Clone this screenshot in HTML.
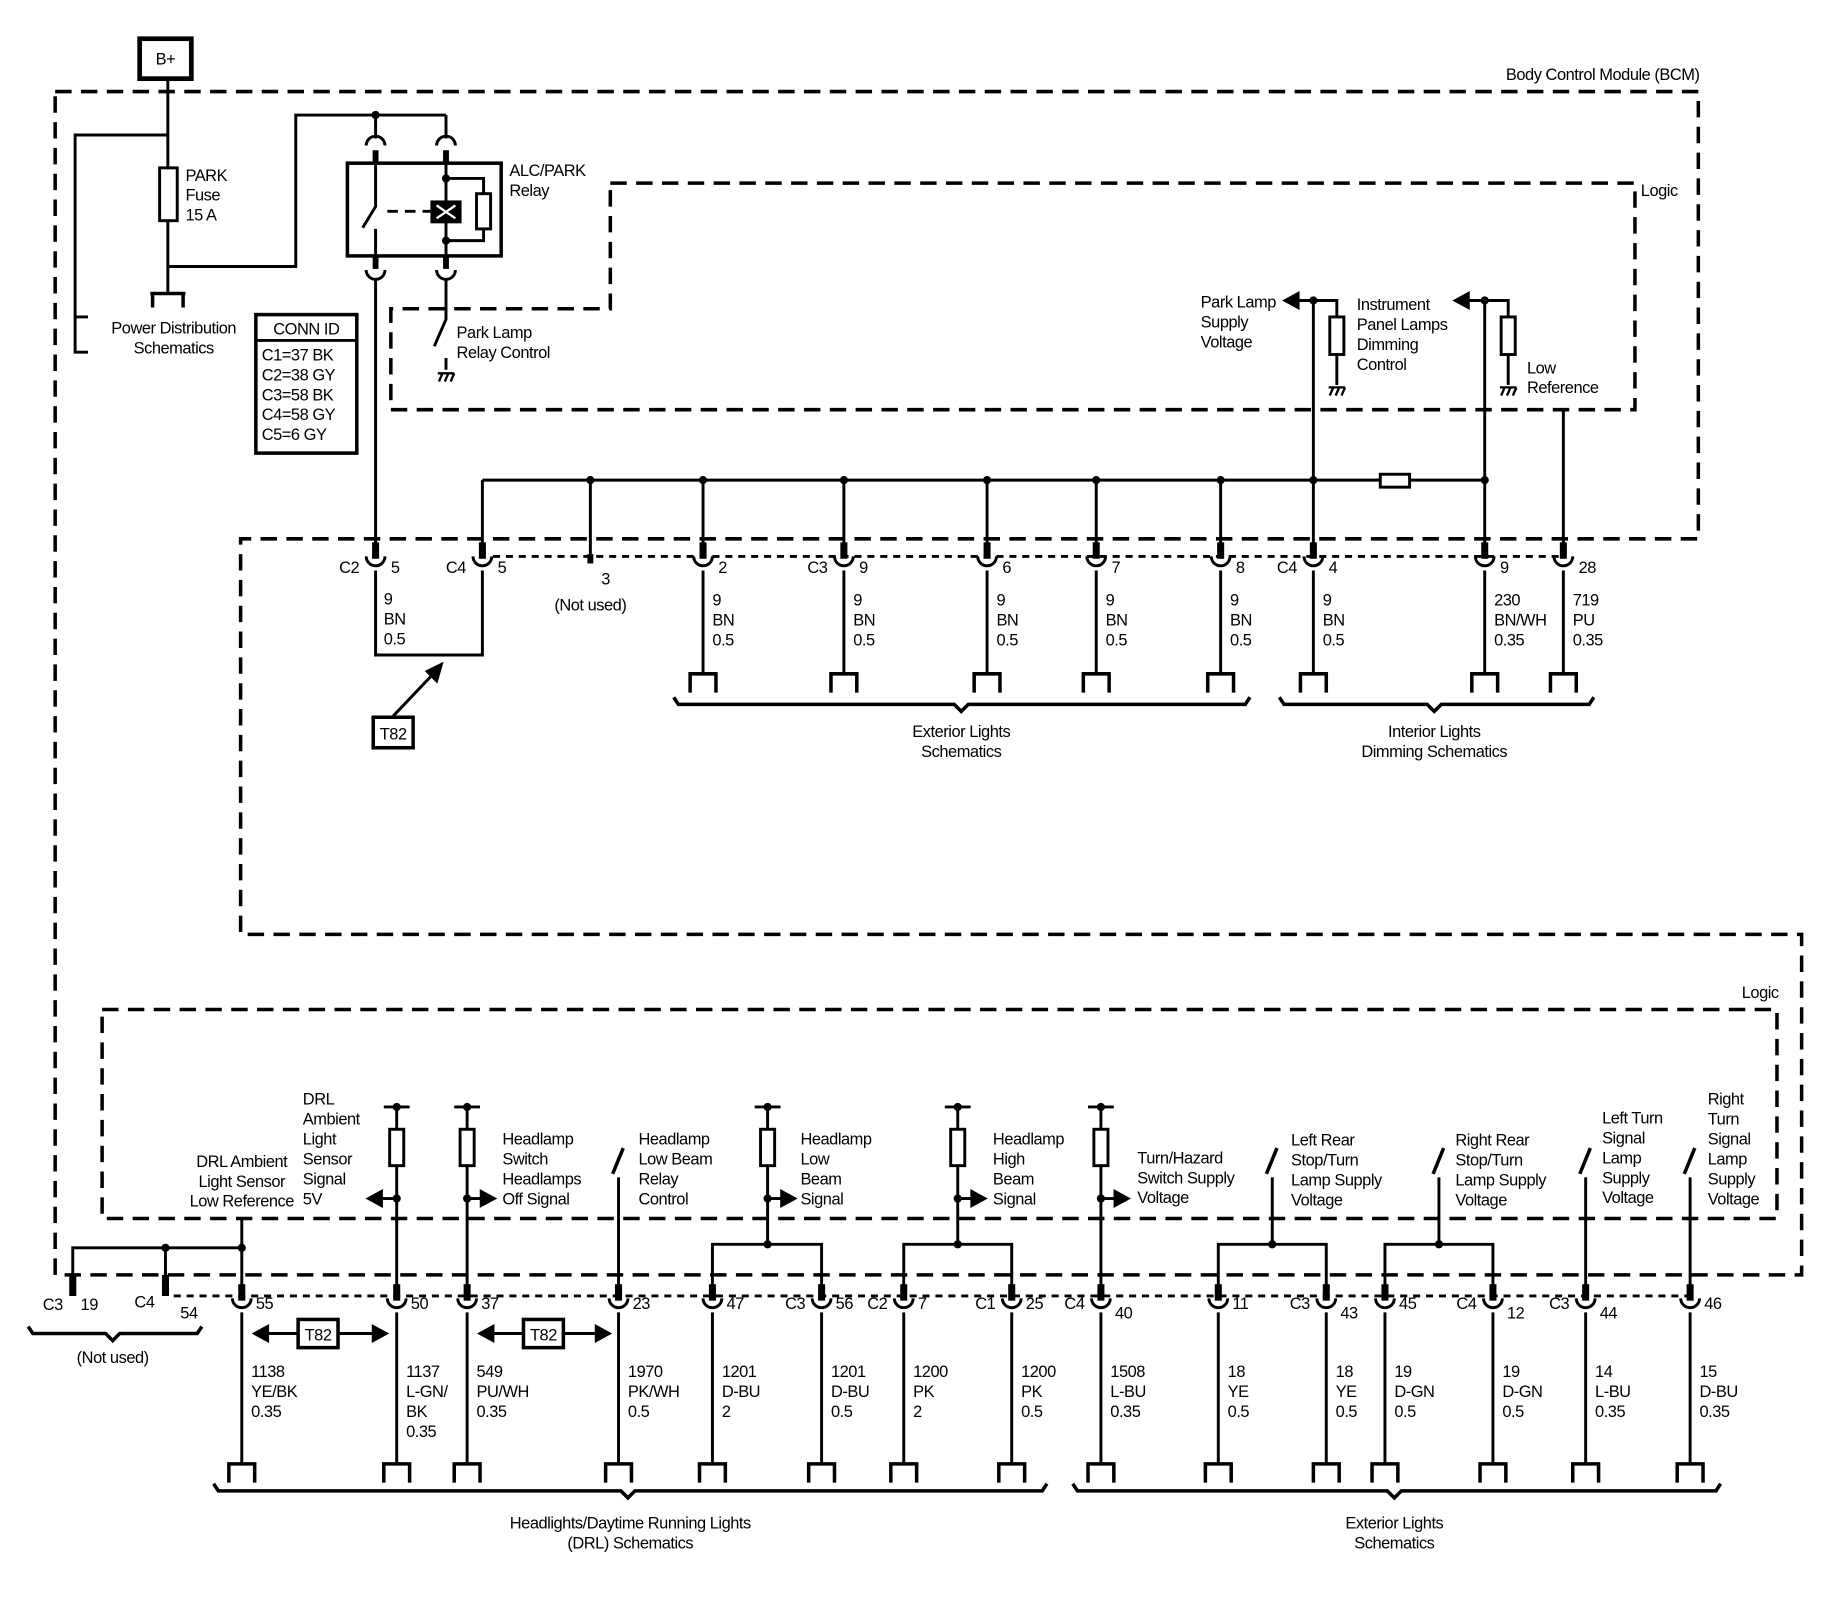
<!DOCTYPE html>
<html><head><meta charset="utf-8"><style>
html,body{margin:0;padding:0;background:#fff}
svg{display:block}
text{font-family:"Liberation Sans Narrow","Liberation Sans",sans-serif;font-size:14px;fill:#000;letter-spacing:-0.4px}
</style></head><body>
<svg id="s" xmlns="http://www.w3.org/2000/svg" width="1838" height="1600" viewBox="0 0 1566 1363" preserveAspectRatio="none">
<g fill="none" stroke="#000" stroke-width="3" stroke-dasharray="14,8">
<path d="M47 78 H1447 V459 H205 V796 H1535 V1086 H47 Z"/>
<path d="M520 156 H1393 V349 H333 V263 H520 Z"/>
<rect x="87" y="860" width="1427" height="178"/>
</g>
<g id="w" fill="none" stroke="#000" stroke-width="2.5"></g>
<g id="t"></g>
</svg>
<script>
const W=document.getElementById('w'),T=document.getElementById('t');
function p(d,extra){W.insertAdjacentHTML('beforeend','<path d="'+d+'" '+(extra||'')+'/>');}
function dot(x,y){W.insertAdjacentHTML('beforeend','<circle cx="'+x+'" cy="'+y+'" r="3.5" fill="#000" stroke="none"/>');}
function tx(x,y,lines,anchor,lh){lh=lh||17;lines.forEach((l,i)=>T.insertAdjacentHTML('beforeend','<text x="'+x+'" y="'+(y+i*lh)+'"'+(anchor?' text-anchor="'+anchor+'"':'')+'>'+l+'</text>'));}
function rect(x,y,w,h,sw){W.insertAdjacentHTML('beforeend','<rect x="'+x+'" y="'+y+'" width="'+w+'" height="'+h+'" fill="#fff" stroke-width="'+(sw||2.5)+'"/>');}
function conn(x,y){
  p('M'+x+' '+(y-18)+' V'+(y-4),'stroke-width="6"');
  p('M'+(x-8)+' '+(y-6)+' A8 8 0 0 0 '+(x+8)+' '+(y-6));
}
function term(x,y){p('M'+(x-11)+' '+(y+16)+' V'+y+' H'+(x+11)+' V'+(y+16),'stroke-width="3"');}
function gnd(x,y){p('M'+(x-7)+' '+y+' H'+(x+7)+' M'+(x-6)+' '+(y+7)+' L'+(x-3)+' '+y+' M'+(x-1)+' '+(y+7)+' L'+(x+2)+' '+y+' M'+(x+4)+' '+(y+7)+' L'+(x+7)+' '+y,'stroke-width="2"');}
function arrowL(x,y){W.insertAdjacentHTML('beforeend','<polygon points="'+x+','+y+' '+(x+11)+','+(y-6)+' '+(x+11)+','+(y+6)+'" fill="#000"/>');}
function arrowR(x,y){W.insertAdjacentHTML('beforeend','<polygon points="'+x+','+y+' '+(x-11)+','+(y-6)+' '+(x-11)+','+(y+6)+'" fill="#000"/>');}
function brace(x1,x2,y,c){p('M'+x1+' '+(y-6)+' L'+(x1+4)+' '+y+' H'+(c-6)+' L'+c+' '+(y+6)+' L'+(c+6)+' '+y+' H'+(x2-4)+' L'+x2+' '+(y-6),'stroke-width="3"');}
function sw(x,y){p('M'+(x+4)+' '+y+' L'+(x-5)+' '+(y+22),'stroke-width="3"');}

W.insertAdjacentHTML('beforeend','<rect x="119" y="33" width="44" height="34" fill="#fff" stroke-width="4"/>');
tx(141,55,['B+'],'middle');
tx(1448,68,['Body Control Module (BCM)'],'end');
tx(1398,167,['Logic']);
p('M143 67 V250 M143 115 H64 V300 H75 M64 270 H75');
rect(136,143,15,45);
tx(158,154,['PARK','Fuse','15 A']);
p('M128 250 H158 M130 250 V262 M156 250 V262','stroke-width="3"');
tx(148,284,['Power Distribution','Schematics'],'middle');
p('M143 227 H252 V98 H380 M320 98 V118 M380 98 V118');
dot(320,98);
p('M312 124 A8 8 0 0 1 328 124 M372 124 A8 8 0 0 1 388 124');
p('M320 128 V139 M380 128 V139','stroke-width="5"');
W.insertAdjacentHTML('beforeend','<rect x="296" y="139" width="131" height="79" fill="none" stroke-width="3"/>');
p('M320 139 V176 L309 194 M320 195 V218 M380 139 V218 M380 152 H412 V205 H380');
p('M330 180 H368','stroke-dasharray="9,6" stroke-width="2.5"');
W.insertAdjacentHTML('beforeend','<rect x="368" y="172" width="24" height="17" fill="#000"/><path d="M372 175 L388 186 M388 175 L372 186" stroke="#fff" stroke-width="2"/>');
dot(380,152);dot(380,205);
rect(406,165,12,30);
tx(434,150,['ALC/PARK','Relay']);
p('M320 218 V229 M380 218 V229','stroke-width="5"');
p('M312 230 A8 8 0 0 0 328 230 M372 230 A8 8 0 0 0 388 230');
p('M320 238 V470 M380 238 V272 L370 295 M380 305 V315');
gnd(380,318);
tx(389,288,['Park Lamp','Relay Control']);
W.insertAdjacentHTML('beforeend','<rect x="218" y="268" width="86" height="118" fill="none" stroke-width="3"/>');
p('M218 290 H304');
tx(261,285,['CONN ID'],'middle');
tx(223,307,['C1=37 BK','C2=38 GY','C3=58 BK','C4=58 GY','C5=6 GY']);
p('M411 409 H1176 M1201 409 H1265 M411 409 V470');
rect(1176,404,25,11);
[503,599,719,841,934,1040,1119,1265].forEach(x=>dot(x,409));
[599,719,841,934,1040,1119,1265].forEach(x=>p('M'+x+' 409 V470'));
p('M503 409 V472','stroke-width="2.5"');
p('M1119 256 V409 M1119 256 H1139 V270 M1139 302 V328 M1265 256 V409 M1265 256 H1285 V270 M1285 302 V328 M1332 349 V470');
p('M1106 256 H1119 M1251 256 H1265');
arrowL(1095,256);arrowL(1240,256);dot(1119,256);dot(1265,256);
rect(1133,270,12,32);rect(1279,270,12,32);
gnd(1139,330);gnd(1285,330);
tx(1023,262,['Park Lamp','Supply','Voltage']);
tx(1156,264,['Instrument','Panel Lamps','Dimming','Control']);
tx(1301,318,['Low','Reference']);
const topC=[[320,'C2','5'],[411,'C4','5'],[599,'','2'],[719,'C3','9'],[841,'','6'],[934,'','7'],[1040,'','8'],[1119,'C4','4'],[1265,'','9'],[1332,'','28']];
topC.forEach(c=>{conn(c[0],480);if(c[1])tx(c[0]-14,488,[c[1]],'end');tx(c[0]+13,488,[c[2]]);});
p('M420 474 H1330','stroke-dasharray="6,5" stroke-width="2.5"');
p('M503 472 V480','stroke-width="5"');
tx(516,498,['3'],'middle');tx(503,520,['(Not used)'],'middle');
p('M320 486 V558 H411 V486');
tx(327,515,['9','BN','0.5']);
[[599,'9','BN','0.5'],[719,'9','BN','0.5'],[841,'9','BN','0.5'],[934,'9','BN','0.5'],[1040,'9','BN','0.5'],[1119,'9','BN','0.5'],[1265,'230','BN/WH','0.35'],[1332,'719','PU','0.35']].forEach(c=>{
 p('M'+c[0]+' 486 V574');term(c[0],574);tx(c[0]+8,516,[c[1],c[2],c[3]]);});
p('M335 610 L373 570','stroke-width="2.5"');
W.insertAdjacentHTML('beforeend','<polygon points="376,566 364,572 372,580" fill="#000"/>');
W.insertAdjacentHTML('beforeend','<rect x="318" y="611" width="34" height="26" fill="#fff" stroke-width="3"/>');
tx(335,630,['T82'],'middle');
brace(574,1065,600,819);brace(1090,1358,600,1222);
tx(819,628,['Exterior Lights','Schematics'],'middle');
tx(1222,628,['Interior Lights','Dimming Schematics'],'middle');
tx(1484,850,['Logic']);
p('M62 1092 V1063 H206 M141 1063 V1092 M206 1038 V1100');
dot(141,1063);dot(206,1063);
p('M62 1086 V1104 M141 1086 V1104','stroke-width="6"');
[338,398,654,816,938].forEach(x=>{const e=(x==654||x==816)?1060:1100;p('M'+(x-11)+' 943 H'+(x+11)+' M'+x+' 943 V962 M'+x+' 993 V'+e);rect(x-6,962,12,31);dot(x,943);dot(x,1021);});
p('M325 1021 H338');arrowL(314,1021);
[398,654,816,938].forEach(x=>{p('M'+x+' 1021 H'+(x+12));arrowR(x+23,1021);});
[527,1084,1226,1351,1440].forEach(x=>sw(x,978));
p('M527 1003 V1100 M1084 1003 V1060 M1226 1003 V1060 M1351 1003 V1100 M1440 1003 V1100');
p('M654 1060 H607 V1100 M654 1060 H700 V1100 M816 1060 H770 V1100 M816 1060 H862 V1100 M1084 1060 H1038 V1100 M1084 1060 H1130 V1100 M1226 1060 H1180 V1100 M1226 1060 H1272 V1100');
dot(654,1060);dot(816,1060);dot(1084,1060);dot(1226,1060);
p('M148 1104 H1440','stroke-dasharray="6,5" stroke-width="2.5"');
tx(206,994,['DRL Ambient','Light Sensor','Low Reference'],'middle');
tx(258,941,['DRL','Ambient','Light','Sensor','Signal','5V']);
tx(428,975,['Headlamp','Switch','Headlamps','Off Signal']);
tx(544,975,['Headlamp','Low Beam','Relay','Control']);
tx(682,975,['Headlamp','Low','Beam','Signal']);
tx(846,975,['Headlamp','High','Beam','Signal']);
tx(969,991,['Turn/Hazard','Switch Supply','Voltage']);
tx(1100,976,['Left Rear','Stop/Turn','Lamp Supply','Voltage']);
tx(1240,976,['Right Rear','Stop/Turn','Lamp Supply','Voltage']);
tx(1365,957,['Left Turn','Signal','Lamp','Supply','Voltage']);
tx(1455,941,['Right','Turn','Signal','Lamp','Supply','Voltage']);
tx(45,1116,['C3'],'middle');tx(76,1116,['19'],'middle');tx(123,1114,['C4'],'middle');tx(161,1123,['54'],'middle');
brace(24,172,1136,96);tx(96,1161,['(Not used)'],'middle');
const bot=[[206,'','55',['1138','YE/BK','0.35']],[338,'','50',['1137','L-GN/','BK','0.35']],[398,'','37',['549','PU/WH','0.35']],[527,'','23',['1970','PK/WH','0.5']],[607,'','47',['1201','D-BU','2']],[700,'C3','56',['1201','D-BU','0.5']],[770,'C2','7',['1200','PK','2']],[862,'C1','25',['1200','PK','0.5']],[938,'C4','40',['1508','L-BU','0.35']],[1038,'','11',['18','YE','0.5']],[1130,'C3','43',['18','YE','0.5']],[1180,'','45',['19','D-GN','0.5']],[1272,'C4','12',['19','D-GN','0.5']],[1351,'C3','44',['14','L-BU','0.35']],[1440,'','46',['15','D-BU','0.35']]];
bot.forEach(c=>{const x=c[0];conn(x,1112);if(c[1])tx(x-14,1115,[c[1]],'end');tx(x+12,[1130,1272,1351,938].includes(x)?1123:1115,[c[2]]);
 p('M'+x+' 1118 V1247');term(x,1247);tx(x+8,1173,c[3]);});
[[217,329,271],[409,519,463]].forEach(a=>{p('M'+(a[0]+10)+' 1136 H'+(a[1]-10));arrowL(a[0],1136);arrowR(a[1],1136);
 W.insertAdjacentHTML('beforeend','<rect x="'+(a[2]-17)+'" y="1124" width="34" height="24" fill="#fff" stroke-width="3"/>');tx(a[2],1142,['T82'],'middle');});
brace(182,892,1270,535);brace(914,1466,1270,1188);
tx(537,1302,['Headlights/Daytime Running Lights','(DRL) Schematics'],'middle');
tx(1188,1302,['Exterior Lights','Schematics'],'middle');
</script>
</body></html>
